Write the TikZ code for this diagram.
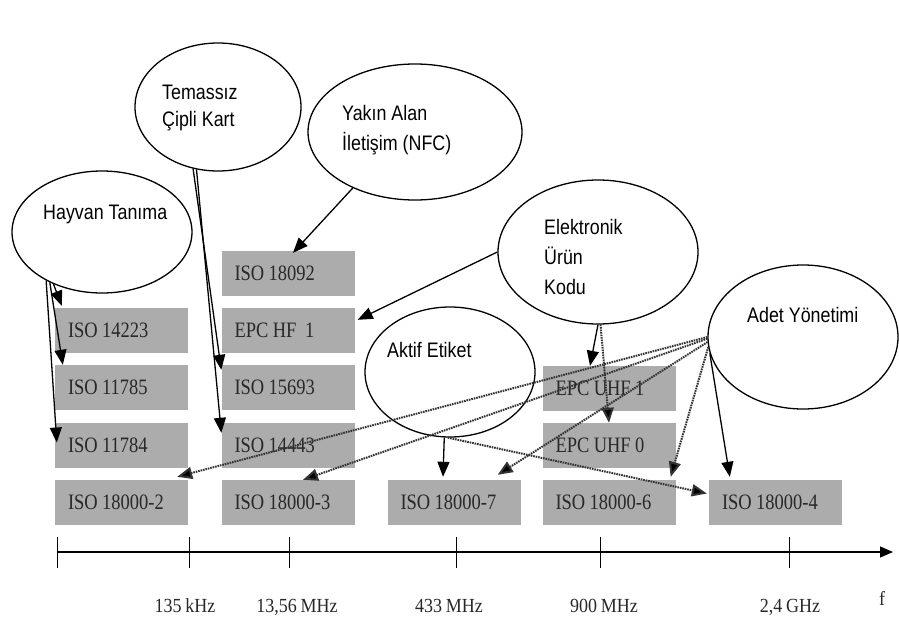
\documentclass[tikz,border=0pt]{standalone}
\usepackage{fontspec}
\setmainfont[FakeStretch=0.84,WordSpace=0.95]{Liberation Serif}
\newfontfamily\ellfont[FakeStretch=0.85]{Liberation Sans}
\newfontfamily\axfont[FakeStretch=0.9,WordSpace=0.8]{Liberation Serif}
\usetikzlibrary{arrows.meta,shapes.geometric}
\definecolor{boxgray}{RGB}{172,172,172}
\definecolor{txtgray}{RGB}{40,40,40}
\newcommand\boxtxt[1]{\makebox[107pt][l]{#1}}
\tikzset{
  ell/.style={ellipse, draw, line width=1.3pt, inner sep=0pt},
  lbl/.style={font=\ellfont\fontsize{21}{29}\selectfont, align=left, inner sep=0pt, anchor=west},
  stdbox/.style={rectangle, fill=boxgray, minimum height=45pt, minimum width=133pt,
    inner xsep=13pt, inner ysep=0pt, font=\fontsize{22}{24}\selectfont, text=txtgray},
  sarr/.style={line width=1.3pt, -{Triangle[length=15pt,width=12pt]}},
  darr/.style={line width=2pt, dash pattern=on 1.6pt off 0.9pt, draw=black!80,
    -{Triangle[length=15pt,width=12pt,fill=black]}},
  axlbl/.style={font=\axfont\fontsize{20}{22}\selectfont, inner sep=0pt, text=txtgray, anchor=base},
}
\begin{document}
\begin{tikzpicture}[x=1pt,y=-1pt]
\fill[white] (0,0) rectangle (899,618);
\useasboundingbox (0,0) rectangle (899,618);

% boxes
\node[stdbox] (b14223) at (121.5,330.5) {\boxtxt{ISO 14223}};
\node[stdbox] (b11785) at (121.5,387.5) {\boxtxt{ISO 11785}};
\node[stdbox] (b11784) at (121.5,445.5) {\boxtxt{ISO 11784}};
\node[stdbox] (b2)     at (121.5,502.5) {\boxtxt{ISO 18000-2}};
\node[stdbox] (b18092) at (288,273.5) {\boxtxt{ISO 18092}};
\node[stdbox] (bhf)    at (288,330.5) {\boxtxt{EPC HF\ \ 1}};
\node[stdbox] (b15693) at (288,387.5) {\boxtxt{ISO 15693}};
\node[stdbox] (b14443) at (288,445.5) {\boxtxt{ISO 14443}};
\node[stdbox] (b3)     at (288,502.5) {\boxtxt{ISO 18000-3}};
\node[stdbox] (b7)     at (454,502.5) {\boxtxt{ISO 18000-7}};
\node[stdbox] (buhf1)  at (609,388.5) {\boxtxt{EPC UHF 1}};
\node[stdbox] (buhf0)  at (609,445.5) {\boxtxt{EPC UHF 0}};
\node[stdbox] (b6)     at (609,502.5) {\boxtxt{ISO 18000-6}};
\node[stdbox] (b4)     at (775.5,502.5) {\boxtxt{ISO 18000-4}};

% ellipses
\node[ell, minimum width=180pt, minimum height=122pt] (hay) at (102,232) {};
\node[ell, minimum width=166pt, minimum height=128pt] (tem) at (218,107) {};
\node[ell, minimum width=214pt, minimum height=136pt] (nfc) at (415,132) {};
\node[ell, minimum width=200pt, minimum height=144pt] (el)  at (598,252) {};
\node[ell, minimum width=170pt, minimum height=130pt] (akt) at (450,372) {};
\node[ell, minimum width=190pt, minimum height=144pt] (ad)  at (803,337) {};

% ellipse texts
\node[lbl] (thay) at (43,214) {Hayvan Tanıma};
\node[lbl, font=\ellfont\fontsize{21}{28}\selectfont] (ttem) at (162,108) {Temassız\\Çipli Kart};
\node[lbl, font=\ellfont\fontsize{21}{30}\selectfont] (tnfc) at (342,130) {Yakın Alan\\İletişim (NFC)};
\node[lbl, font=\ellfont\fontsize{21}{30}\selectfont] (tel) at (544,257) {Elektronik\\Ürün\\Kodu};
\node[lbl] (takt) at (387,350) {Aktif Etiket};
\node[lbl] (tad) at (747,315) {Adet Yönetimi};

% solid connectors
\draw[sarr] (hay.227) -- ([xshift=7pt,yshift=2pt]b14223.north west);
\draw[sarr] (hay.224) -- ([xshift=8pt]b11785.north west);
\draw[sarr] (hay.221) -- ([xshift=2pt,yshift=3pt]b11784.west);
\draw[sarr] (tem.248) -- ([yshift=-5pt]b15693.north west);
\draw[sarr] (tem.251) -- ([yshift=-10pt]b14443.north west);
\draw[sarr] (nfc.222) -- ([xshift=5pt,yshift=-2pt]b18092.north);
\draw[sarr] (el.west) -- ([xshift=3pt,yshift=-12pt]bhf.north east);
\draw[sarr] (el.270) -- ([xshift=-19pt]buhf1.north);
\draw[sarr] (akt.265) -- ([xshift=-11pt,yshift=3pt]b7.north);
\draw[sarr] (ad.190) -- ([xshift=21pt,yshift=3pt]b4.north west);

% dotted connectors
\draw[darr] (el.272) -- (buhf0.north);
\draw[darr] (akt.268) -- ([xshift=-2pt,yshift=9pt]b4.west);
\draw[darr] (ad.180) -- ([xshift=-11pt,yshift=3pt]b2.north east);
\draw[darr] (ad.181) -- ([xshift=15pt]b3.north);
\draw[darr] (ad.183) -- ([xshift=-23pt,yshift=5pt]b7.north east);
\draw[darr] (ad.186) -- ([xshift=-5pt,yshift=3pt]b6.north east);

% axis
\coordinate (ax0) at (57,552);
\coordinate (ax1) at (893,552);
\draw[line width=1.2pt, -{Triangle[length=13pt,width=11pt]}] (ax0) -- (ax1);
\foreach \x in {57,189,289,456,600,789} \draw[line width=1pt] (\x,537) -- (\x,568);
\node[axlbl] (l1) at (185,612) {135 kHz};
\node[axlbl] (l2) at (297,612) {13,56 MHz};
\node[axlbl] (l3) at (449,612) {433 MHz};
\node[axlbl] (l4) at (604,612) {900 MHz};
\node[axlbl] (l5) at (790,612) {2,4 GHz};
\node[axlbl] (lf) at (882,605) {f};
\end{tikzpicture}
\end{document}
